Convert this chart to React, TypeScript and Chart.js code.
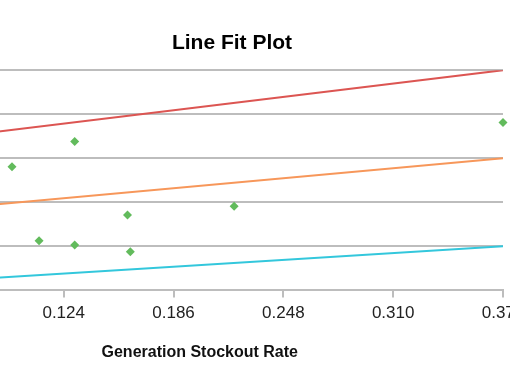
import React, { useEffect, useRef } from "react";
import { Chart, registerables } from "chart.js";

Chart.register(...registerables);

const chartTitle = "Line Fit Plot";
const xAxisTitle = "Generation Stockout Rate";
const xTickValues = [0.124, 0.186, 0.248, 0.31, 0.372];
const yTickRange = [0, 5];

const pointX = [0.0948, 0.1302, 0.1101, 0.1302, 0.16, 0.1616, 0.2202, 0.372];
const pointY = [2.81, 3.38, 1.13, 1.03, 1.71, 0.88, 1.91, 3.815];

const lineX = [0, 0.372];
const redLineY = [3.18, 5.0];
const orangeLineY = [1.64, 3.0];
const cyanLineY = [0.074, 1.0];

const xMin = 0.0296;
const xMax = 0.372;

export default function App() {
  const ref = useRef<HTMLCanvasElement | null>(null);

  useEffect(() => {
    if (!ref.current) return;
    const toPts = (xs: number[], ys: number[]) => xs.map((x, i) => ({ x, y: ys[i] }));
    const chart = new Chart(ref.current, {
      type: "scatter",
      data: {
        datasets: [
          {
            label: "Red",
            data: toPts(lineX, redLineY),
            showLine: true,
            borderColor: "#dc5552",
            borderWidth: 2,
            pointRadius: 0,
          },
          {
            label: "Orange",
            data: toPts(lineX, orangeLineY),
            showLine: true,
            borderColor: "#f7975a",
            borderWidth: 2,
            pointRadius: 0,
          },
          {
            label: "Cyan",
            data: toPts(lineX, cyanLineY),
            showLine: true,
            borderColor: "#33c7dc",
            borderWidth: 2,
            pointRadius: 0,
          },
          {
            label: "Points",
            data: toPts(pointX, pointY),
            showLine: false,
            pointStyle: "rectRot",
            pointRadius: 4.5,
            backgroundColor: "#62bb5c",
            borderColor: "#62bb5c",
            borderWidth: 0,
            clip: false as any,
          },
        ],
      },
      options: {
        responsive: false,
        animation: false,
        layout: { padding: { left: 0, right: 0, top: 0, bottom: 20 } },
        plugins: {
          legend: { display: false },
          tooltip: { enabled: false },
          title: {
            display: true,
            text: chartTitle,
            color: "#000",
            font: { family: "Liberation Sans, Arial", size: 21, weight: "bold" },
            padding: { top: 31, bottom: 14 },
          },
        },
        scales: {
          x: {
            type: "linear",
            min: xMin,
            max: xMax,
            afterBuildTicks: (axis: any) => {
              axis.ticks = xTickValues.map((v) => ({ value: v }));
            },
            ticks: {
              color: "#222",
              font: { family: "Liberation Sans, Arial", size: 17 },
              padding: 6,
              callback: (v: any) => Number(v).toFixed(3),
              autoSkip: false,
              maxRotation: 0,
            },
            grid: {
              display: true,
              drawOnChartArea: false,
              drawTicks: true,
              tickLength: 7,
              color: "#bdbdbd",
              lineWidth: 2,
            },
            border: { display: true, color: "#bdbdbd", width: 2 },
            title: {
              display: true,
              text: xAxisTitle,
              color: "#111",
              font: { family: "Liberation Sans, Arial", size: 16, weight: "bold" },
              padding: { top: 13, bottom: 0 },
            },
          },
          y: {
            type: "linear",
            position: "right",
            min: yTickRange[0],
            max: yTickRange[1],
            afterFit: (axis: any) => {
              axis.width = 69;
            },
            ticks: { display: false, stepSize: 1 },
            grid: { color: "#bdbdbd", lineWidth: 2, drawTicks: false },
            border: { display: false },
          },
        },
      },
    });
    return () => chart.destroy();
  }, []);

  return (
    <div
      style={{
        position: "fixed",
        left: 0,
        top: 0,
        width: 510,
        height: 382,
        overflow: "hidden",
        background: "#fff",
      }}
    >
      <canvas
        ref={ref}
        width={680}
        height={382}
        style={{ position: "absolute", left: -108, top: 0, width: 680, height: 382 }}
      />
    </div>
  );
}
